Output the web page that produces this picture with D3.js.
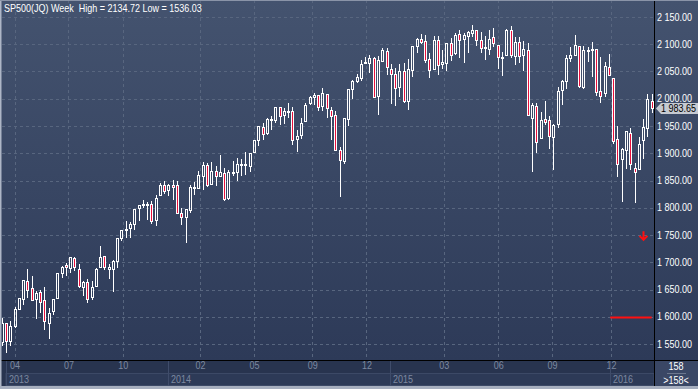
<!DOCTYPE html>
<html>
<head>
<meta charset="utf-8">
<script src="https://cdn.jsdelivr.net/npm/d3@7"></script>
<style>
  html, body { margin:0; padding:0; background:#2b3755; }
  svg { display:block; font-family:"Liberation Sans", Arial, sans-serif; }
</style>
</head>
<body>
<svg id="chart" width="698" height="389"></svg>
<script>
// weekly bars, first = week of 2013-04-08
var opens = [
1553.26,1588.84,1555.25,1582.34,1614.40,1632.10,1665.71,1652.63,1631.71,1644.67,1630.64,1588.77,1609.78,1634.20,1679.59,1694.41,1690.32,1708.01,1688.37,1655.25,1664.29,1635.95,1656.85,1691.70,1711.44,1687.26,1687.15,1702.68,1745.20,1759.42,1763.40,1769.96,1798.82,1806.33,1806.55,1806.21,1777.48,1822.92,1841.47,
1832.31,1842.29,1841.05,1791.03,1782.68,1796.20,1838.22,1836.78,1857.68,1877.86,1842.81,1867.67,1859.16,1863.92,1818.18,1865.79,1865.00,1879.45,1880.03,1876.66,1902.01,1923.87,1948.97,1937.15,1962.92,1960.79,1984.22,1969.86,1976.93,1978.25,1926.14,1933.43,1958.36,1991.74,2004.07,2007.17,1986.77,2009.08,1978.96,1970.01,1905.65,1885.62,1962.97,2018.21,2032.01,2038.29,2065.07,2065.78,2074.84,2005.03,2069.28,2087.63,
2054.44,2046.13,2020.76,2050.42,1996.67,2053.47,2096.47,2109.83,2105.23,2072.25,2055.35,2107.99,2064.11,2064.87,2102.03,2084.11,2119.29,2110.23,2115.56,2121.30,2125.34,2108.64,2092.34,2091.34,2112.50,2098.63,2073.95,2080.03,2126.80,2078.19,2104.49,2080.98,2089.70,1965.15,1986.73,1927.30,1963.06,1960.84,1929.18,1954.33,2015.65,2031.73,2075.08,2080.76,2096.56,2022.08,2089.41,2090.95,2090.42,2013.37,2010.27,2057.77,
2038.20,1926.12,1888.66,1906.28,1936.94,1873.25,1871.44,1924.44,1947.13,1996.11];
var highs = [
1597.35,1588.84,1592.64,1618.46,1635.01,1667.47,1687.18,1674.21,1646.53,1648.69,1654.19,1615.94,1632.07,1680.19,1693.12,1698.78,1709.67,1709.24,1696.81,1664.85,1669.51,1664.83,1689.97,1729.86,1711.44,1696.55,1703.44,1745.31,1759.82,1775.22,1774.54,1798.22,1804.84,1813.55,1810.02,1811.52,1823.75,1844.89,1849.44,
1843.23,1850.84,1849.31,1798.77,1798.03,1841.65,1847.50,1867.92,1883.57,1882.35,1883.97,1875.92,1897.28,1872.53,1869.63,1884.89,1891.33,1889.07,1902.17,1901.26,1924.03,1949.44,1955.55,1963.91,1968.17,1985.59,1984.22,1983.94,1991.39,1984.85,1942.92,1964.04,1992.17,2005.04,2011.17,2007.17,2019.26,2009.08,1985.17,1977.84,1912.09,1965.27,2018.19,2034.26,2046.18,2071.46,2075.76,2079.47,2075.78,2077.85,2093.55,2093.55,
2064.43,2056.93,2064.62,2065.26,2072.40,2097.03,2110.61,2119.59,2117.52,2083.49,2114.86,2114.86,2088.97,2102.61,2111.91,2120.92,2125.92,2120.95,2123.89,2134.72,2126.22,2121.92,2115.02,2126.65,2129.87,2098.63,2085.00,2128.00,2132.82,2114.00,2112.66,2105.35,2102.87,1993.00,1992.00,1975.01,1996.45,1969.00,1953.00,2020.86,2033.54,2079.74,2094.32,2116.48,2096.56,2097.00,2095.61,2104.27,2090.42,2076.72,2067.00,2081.56,
2038.20,1950.33,1908.85,1940.24,1947.20,1881.60,1930.68,1962.96,2009.13,2009.00];
var lows = [
1548.19,1536.03,1548.19,1581.28,1614.40,1623.70,1635.53,1630.74,1598.23,1608.07,1577.70,1560.33,1604.57,1634.20,1672.09,1676.03,1681.86,1684.91,1654.41,1639.43,1627.47,1633.41,1656.85,1691.70,1687.11,1670.36,1646.47,1692.13,1740.50,1746.20,1746.20,1761.56,1777.23,1800.87,1779.09,1772.28,1767.99,1822.92,1827.74,
1823.73,1815.52,1790.29,1770.45,1737.92,1791.83,1824.58,1836.78,1834.44,1839.57,1842.81,1842.11,1859.16,1814.36,1815.80,1859.70,1850.61,1859.79,1862.36,1868.14,1902.01,1915.98,1925.78,1934.87,1944.69,1958.22,1952.86,1955.59,1965.77,1916.18,1904.78,1928.89,1958.36,1990.52,1990.10,1980.26,1978.48,1965.99,1926.03,1906.05,1820.66,1882.30,1951.37,2001.01,2030.17,2034.46,2064.75,2049.57,2002.33,1972.56,2069.28,2046.04,
1992.44,1988.12,2004.49,1993.51,1980.90,2041.88,2085.44,2103.00,2067.27,2039.69,2055.35,2045.50,2056.52,2052.96,2072.00,2083.00,2077.00,2067.93,2085.00,2115.00,2099.18,2085.67,2072.14,2083.00,2097.00,2056.64,2044.02,2080.03,2077.00,2063.52,2067.91,2052.09,1970.89,1867.01,1903.07,1927.30,1953.00,1908.77,1871.91,1949.00,1990.73,2019.00,2069.00,2080.00,2022.00,2019.39,2070.00,2042.35,2007.00,1993.26,2005.93,2043.62,
1918.46,1857.83,1812.29,1872.65,1872.00,1810.10,1871.44,1891.00,1931.81,1976.00];
var closes = [
1588.85,1555.25,1582.24,1614.42,1633.70,1667.47,1649.60,1630.74,1643.38,1626.73,1592.43,1606.28,1631.89,1680.19,1692.09,1691.65,1709.67,1691.42,1655.83,1663.50,1632.97,1655.17,1687.99,1709.91,1691.75,1690.50,1703.20,1744.50,1759.77,1761.64,1770.61,1798.18,1804.76,1805.81,1805.09,1775.32,1818.32,1841.40,1831.37,
1842.37,1838.70,1790.29,1782.59,1797.02,1838.63,1836.25,1859.45,1878.04,1841.13,1866.52,1857.62,1865.09,1815.69,1864.85,1863.40,1881.14,1878.48,1877.86,1900.53,1923.57,1949.44,1936.16,1962.87,1960.96,1985.44,1967.57,1978.22,1978.34,1925.15,1931.59,1955.06,1988.40,2003.37,2007.71,1985.54,2010.40,1982.85,1967.90,1906.13,1886.76,1964.58,2018.05,2031.92,2039.82,2063.50,2067.56,2075.37,2002.33,2070.65,2088.77,2058.20,
2044.81,2019.42,2051.82,1994.99,2055.47,2096.99,2110.30,2104.50,2071.26,2053.40,2108.10,2061.02,2066.96,2102.06,2081.18,2117.69,2108.29,2116.10,2122.73,2126.06,2107.39,2092.83,2094.11,2109.99,2101.49,2076.78,2076.62,2126.64,2079.65,2103.84,2077.57,2091.54,1970.89,1988.87,1921.22,1961.05,1958.03,1931.34,1951.36,2014.89,2033.11,2075.15,2079.36,2099.20,2023.04,2089.17,2090.11,2091.69,2012.37,2005.55,2060.99,2043.94,
1922.03,1880.33,1906.90,1940.24,1880.05,1864.78,1917.78,1948.05,1999.99,1983.65];

var priceTicks = [1550,1600,1650,1700,1750,1800,1850,1900,1950,2000,2050,2100,2150];
var monthTickIdx = [3, 15.6, 28.3, 46.4, 59, 72.6, 85.3, 103.4, 116.1, 128.7, 142.5];
var monthLabels = ["04","07","10","02","05","09","12","03","06","09","12"];
var yearStartIdx = [-0.9, 38.8, 90.9, 142.3];
var yearLabels = ["2013","2014","2015","2016"];
var lastPrice = 1983.65;
var stopLevel = 1600, stopFrom = 142.3, stopTo = 152;
var arrowIdx = 150, arrowTop = 1757, arrowTip = 1741;
var titleText = "SP500(JQ) Week  High = 2134.72 Low = 1536.03";
var barCount = "158", barCountSub = ">158<";

var W = 698, H = 389;
var plotL = 2, plotR = 654, plotB = 360;
var narrow = "scale(0.9,1)"; // police plus étroite, comme l'original

var svg = d3.select("#chart");
var n = closes.length;

var x = d3.scaleLinear().domain([0, n - 1]).range([1.7, 651.7]);
var y = d3.scaleLinear().domain([1550, 2150]).range([344, 17]);

var loc = d3.formatLocale({decimal: ".", thousands: " ", grouping: [3], currency: ["", ""]});
var fmt = loc.format(",.2f");

// fond
var defs = svg.append("defs");
var grad = defs.append("linearGradient").attr("id", "bg").attr("x1", 0).attr("y1", 0).attr("x2", 0).attr("y2", 1);
grad.append("stop").attr("offset", "0%").attr("stop-color", "#44536f");
grad.append("stop").attr("offset", "100%").attr("stop-color", "#2d3a58");
defs.append("clipPath").attr("id", "plotclip").append("rect")
  .attr("x", plotL).attr("y", 0).attr("width", plotR - plotL).attr("height", plotB);

svg.append("rect").attr("width", W).attr("height", H).attr("fill", "#2a3654");
svg.append("rect").attr("x", 0).attr("y", 0).attr("width", W).attr("height", plotB).attr("fill", "url(#bg)");

// grille
var grid = svg.append("g").attr("stroke", "#58667f").attr("stroke-dasharray", "3,3").attr("stroke-width", 1);
grid.selectAll("line.h").data(priceTicks).enter().append("line")
  .attr("x1", plotL).attr("x2", plotR)
  .attr("y1", function(d){ return Math.round(y(d)) + 0.5; })
  .attr("y2", function(d){ return Math.round(y(d)) + 0.5; });
grid.selectAll("line.v").data(monthTickIdx).enter().append("line")
  .attr("y1", 0).attr("y2", plotB)
  .attr("x1", function(d){ return Math.round(x(d)) + 0.5; })
  .attr("x2", function(d){ return Math.round(x(d)) + 0.5; });

// bougies
var bars = d3.range(n).map(function(i){
  return {i: i, o: opens[i], h: highs[i], l: lows[i], c: closes[i]};
});
var cg = svg.append("g").attr("clip-path", "url(#plotclip)");
var candle = cg.selectAll("g.c").data(bars).enter().append("g");

candle.each(function(d){
  var g = d3.select(this);
  var cx = Math.round(x(d.i));
  var top = Math.round(y(Math.max(d.o, d.c)));
  var bot = Math.round(y(Math.min(d.o, d.c)));
  if (bot - top < 1) bot = top + 1;
  var hi = Math.round(y(d.h)), lo = Math.round(y(d.l));
  if (hi < top) g.append("line").attr("x1", cx + 0.5).attr("x2", cx + 0.5).attr("y1", hi).attr("y2", top).attr("stroke", "#ffffff");
  if (lo > bot) g.append("line").attr("x1", cx + 0.5).attr("x2", cx + 0.5).attr("y1", bot + 1).attr("y2", lo + 1).attr("stroke", "#ffffff");
  g.append("rect")
    .attr("x", cx - 0.5).attr("y", top + 0.5)
    .attr("width", 2).attr("height", bot - top)
    .attr("fill", d.c < d.o ? "#e8103c" : "none")
    .attr("stroke", "#ffffff").attr("stroke-width", 1);
});

// marques rouges
svg.append("line")
  .attr("x1", x(stopFrom)).attr("x2", x(stopTo))
  .attr("y1", Math.round(y(stopLevel)) + 0.5).attr("y2", Math.round(y(stopLevel)) + 0.5)
  .attr("stroke", "#ff1010").attr("stroke-width", 2);
var ax = Math.round(x(arrowIdx)) + 0.5, at = y(arrowTop), ap = y(arrowTip);
svg.append("path")
  .attr("d", "M" + ax + "," + at + "V" + ap + "M" + (ax - 4) + "," + (ap - 4) + "L" + ax + "," + ap + "L" + (ax + 4) + "," + (ap - 4))
  .attr("fill", "none").attr("stroke", "#ff1010").attr("stroke-width", 2);

// axe des prix
var yAxis = d3.axisRight(y).tickValues(priceTicks).tickFormat(fmt).tickSize(0).tickPadding(0);
var ya = svg.append("g").attr("transform", "translate(657,0)").call(yAxis);
ya.select(".domain").remove();
ya.selectAll("text").attr("fill", "#ffffff").attr("font-size", "10px")
  .attr("font-family", "Liberation Sans, Arial, sans-serif").attr("transform", narrow);

// étiquette du dernier cours
var ly = Math.round(y(lastPrice));
svg.append("path")
  .attr("d", "M656," + (ly + 0.5) + "L661," + (ly - 5) + "H698V" + (ly + 6) + "H661Z")
  .attr("fill", "#c6cad2");
svg.append("text").attr("transform", "translate(661," + (ly + 4) + ") " + narrow)
  .attr("font-size", "10px").attr("fill", "#000")
  .text(fmt(lastPrice));

// axe du temps
svg.append("rect").attr("x", 0).attr("y", plotB + 1).attr("width", plotR).attr("height", 26).attr("fill", "#28344f");
svg.append("rect").attr("x", 6).attr("y", 373.5).attr("width", plotR - 6).attr("height", 12)
  .attr("fill", "#2d3a57").attr("stroke", "#3c4966");
var xAxis = d3.axisBottom(x).tickValues(monthTickIdx)
  .tickFormat(function(d, i){ return monthLabels[i]; }).tickSize(0).tickPadding(0);
var xa = svg.append("g").attr("transform", "translate(0," + (plotB + 2) + ")").call(xAxis);
xa.select(".domain").remove();
xa.selectAll("text").attr("fill", "#7d89a0").attr("font-size", "10px")
  .attr("font-family", "Liberation Sans, Arial, sans-serif").attr("transform", narrow);

var yr = svg.append("g");
yr.selectAll("line").data(yearStartIdx).enter().append("line")
  .attr("x1", function(d){ return Math.max(6, Math.round(x(d))) + 0.5; })
  .attr("x2", function(d){ return Math.max(6, Math.round(x(d))) + 0.5; })
  .attr("y1", plotB + 1).attr("y2", 386).attr("stroke", "#3f4c6a");
yr.selectAll("text").data(yearStartIdx).enter().append("text")
  .attr("transform", function(d){ return "translate(" + (Math.max(6, Math.round(x(d))) + 3) + ",383) " + narrow; })
  .attr("font-size", "10px").attr("fill", "#7d89a0")
  .text(function(d, i){ return yearLabels[i]; });

// case en bas à droite
svg.append("rect").attr("x", 655).attr("y", plotB + 1).attr("width", 43).attr("height", 25).attr("fill", "#3a4765");
svg.append("text").attr("transform", "translate(676,370) " + narrow).attr("text-anchor", "middle")
  .attr("font-size", "10px").attr("fill", "#fff").text(barCount);
svg.append("line").attr("x1", 667).attr("x2", 686).attr("y1", 373.5).attr("y2", 373.5).attr("stroke", "#6c778e");
svg.append("text").attr("transform", "translate(676,384) " + narrow).attr("text-anchor", "middle")
  .attr("font-size", "10px").attr("fill", "#fff").text(barCountSub);

// séparateurs et cadre
svg.append("line").attr("x1", 654.5).attr("x2", 654.5).attr("y1", 0).attr("y2", 386).attr("stroke", "#000");
svg.append("line").attr("x1", 0).attr("x2", W).attr("y1", plotB + 0.5).attr("y2", plotB + 0.5).attr("stroke", "#000");
svg.append("rect").attr("x", 0).attr("y", 0).attr("width", 1.5).attr("height", H).attr("fill", "#aeb6c6");
svg.append("rect").attr("x", 0).attr("y", 0).attr("width", W).attr("height", 1).attr("fill", "#8a94a8");
svg.append("rect").attr("x", 0).attr("y", 386).attr("width", W).attr("height", 3).attr("fill", "#a7afbf");

// titre
svg.append("text").attr("transform", "translate(4,12) " + narrow).attr("font-size", "10px").attr("fill", "#ffffff")
  .attr("xml:space", "preserve").text(titleText);
</script>
</body>
</html>
